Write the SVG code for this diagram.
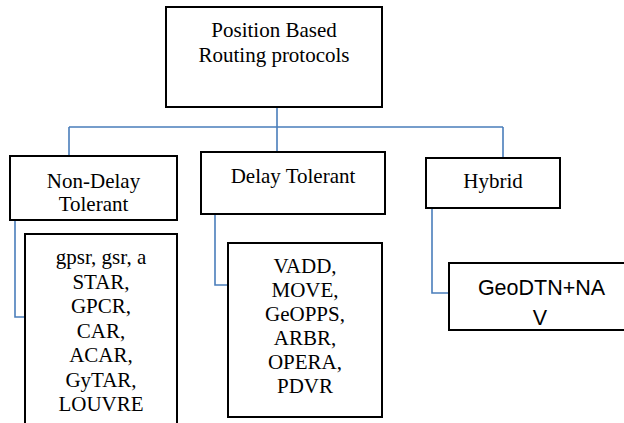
<svg xmlns="http://www.w3.org/2000/svg" width="624" height="423" viewBox="0 0 624 423">
<style>
.box{fill:#fff;stroke:#000;stroke-width:2}
.t{font-family:"Liberation Serif","Times New Roman",serif;font-size:21px;fill:#000;text-anchor:middle}
.s{font-family:"Liberation Sans",Arial,sans-serif;font-size:21.5px;fill:#000;text-anchor:middle}
.c{fill:none;stroke:#4a7ebb;stroke-width:1.6}
</style>
<rect width="624" height="423" fill="#fff"/>
<g id="connectors">
<path class="c" d="M277 107V127M69 127H503M69 127V156M277 127V152M503 127V158"/>
<path class="c" d="M15 220V317H25"/>
<path class="c" d="M215 214V285H228"/>
<path class="c" d="M432 208V293H449"/>
</g>
<g id="root">
<rect class="box" x="166" y="7" width="216" height="100"/>
<text class="t" x="274" y="37">Position Based</text>
<text class="t" x="274" y="62">Routing protocols</text>
</g>
<g id="nondelay">
<rect class="box" x="10" y="156" width="167" height="64"/>
<text class="t" x="93.5" y="188">Non-Delay</text>
<text class="t" x="93.5" y="211">Tolerant</text>
</g>
<g id="delay">
<rect class="box" x="201" y="152" width="184" height="62"/>
<text class="t" x="293" y="183">Delay Tolerant</text>
</g>
<g id="hybrid">
<rect class="box" x="426" y="158" width="134" height="50"/>
<text class="t" x="493" y="188">Hybrid</text>
</g>
<g id="nondelay-list">
<rect class="box" x="25" y="234" width="152" height="200"/>
<text class="t" x="101" y="264">gpsr, gsr, a</text>
<text class="t" x="101" y="288.5">STAR,</text>
<text class="t" x="101" y="313">GPCR,</text>
<text class="t" x="101" y="337.5">CAR,</text>
<text class="t" x="101" y="362">ACAR,</text>
<text class="t" x="101" y="386.5">GyTAR,</text>
<text class="t" x="101" y="411">LOUVRE</text>
</g>
<g id="delay-list">
<rect class="box" x="228" y="243" width="154" height="174"/>
<text class="t" x="305" y="273">VADD,</text>
<text class="t" x="305" y="297">MOVE,</text>
<text class="t" x="305" y="321">GeOPPS,</text>
<text class="t" x="305" y="345">ARBR,</text>
<text class="t" x="305" y="369">OPERA,</text>
<text class="t" x="305" y="393">PDVR</text>
</g>
<g id="hybrid-list">
<rect class="box" x="449" y="263" width="186" height="67"/>
<text class="s" x="541.5" y="295">GeoDTN+NA</text>
<text class="s" x="540" y="325">V</text>
</g>
</svg>
